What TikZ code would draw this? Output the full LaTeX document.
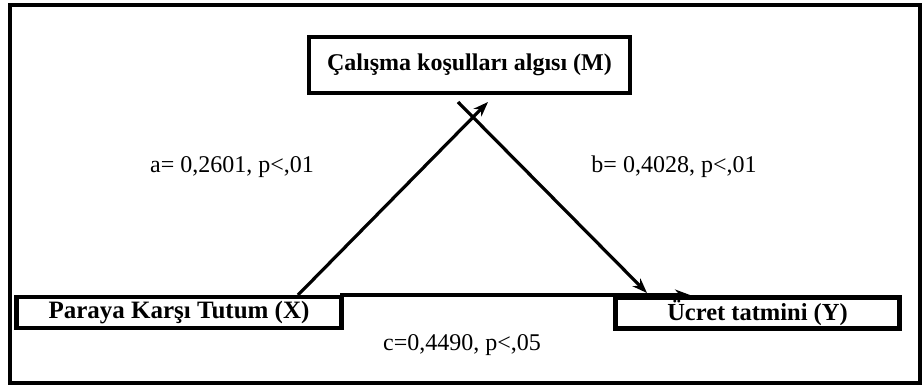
\documentclass[tikz,border=0pt]{standalone}
\usepackage{fontspec}
\setmainfont{Liberation Serif}
\usetikzlibrary{arrows.meta}
\begin{document}
\begin{tikzpicture}[x=1pt,y=-1pt,
  box/.style={draw, line width=4.5pt, inner sep=0pt},
  lbl/.style={inner sep=0pt, font=\fontsize{24}{28}\selectfont},
  arr/.style={line width=3.2pt, -{Stealth[length=15pt,width=11pt]}}]
\useasboundingbox (0,0) rectangle (922,387);
\draw[line width=4pt] (10,5) rectangle (920,383);
\node[box, minimum width=321pt, minimum height=56pt, font=\bfseries\fontsize{24}{28}\selectfont] (M) at (469.5,65) {Çalışma koşulları algısı (M)};
\node[box, minimum width=325pt, minimum height=31pt, font=\bfseries\fontsize{25}{29}\selectfont] (X) at (179,312.5) {Paraya Karşı Tutum (X)};
\node[box, minimum width=284pt, minimum height=31pt, font=\bfseries\fontsize{24.5}{28}\selectfont] (Y) at (757.5,313) {Ücret tatmini (Y)};
\coordinate (a0) at (298,295);
\coordinate (a1) at (488,102);
\coordinate (b0) at (458,102);
\coordinate (b1) at (647,293);
\coordinate (c0) at (340,295);
\coordinate (c1) at (690,295);
\draw[arr] (a0) -- (a1);
\draw[arr] (b0) -- (b1);
\draw[arr] (c0) -- (c1);
\node[lbl] (la) at (232,167) {a= 0,2601, p<,01};
\node[lbl] (lb) at (674,167) {b= 0,4028, p<,01};
\node[lbl] (lc) at (462,345) {c=0,4490, p<,05};
\end{tikzpicture}
\end{document}
